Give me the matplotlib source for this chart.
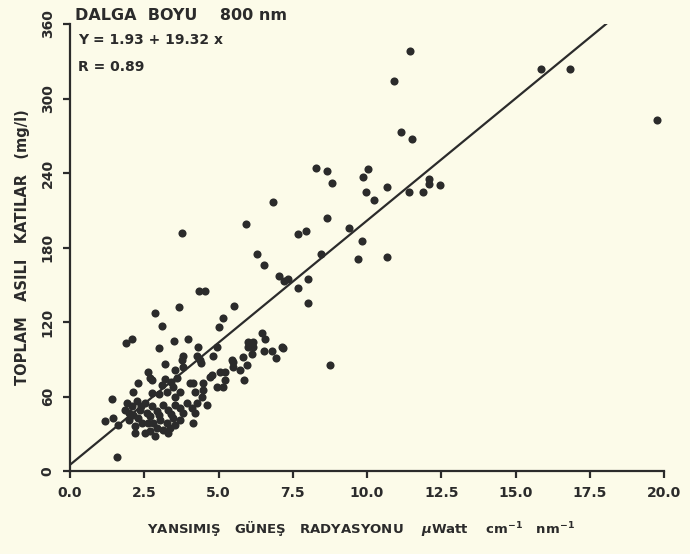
import numpy as np
import matplotlib
matplotlib.use("Agg")
import matplotlib.pyplot as plt

# points (radiation, suspended solids)
x_pts = [11.46, 10.92, 11.13, 11.50, 10.69, 11.43, 11.87, 12.10, 12.10, 12.47,
         15.87, 16.84, 19.76,
         8.27, 8.67, 8.81, 10.02, 9.88, 9.95, 10.22,
         8.67, 7.66, 7.93, 9.41, 8.44, 9.82, 9.71, 10.66,
         6.82, 5.92, 3.76, 6.29, 6.52,
         7.05, 7.20, 7.35, 7.66, 8.03, 8.03, 7.16, 8.74,
         4.34, 4.54, 5.51, 5.14, 5.00,
         3.66, 2.86, 3.09,
         1.88, 2.10, 3.50, 3.97, 4.30, 4.94, 2.99,
         6.45, 6.55, 6.00, 6.15, 6.00, 6.15, 7.13, 6.52, 6.79, 6.92, 6.12, 5.82,
         5.48, 5.95, 5.71, 4.81, 5.21, 5.04, 4.77, 5.44, 5.48, 5.21, 5.85, 4.47,
         4.94, 5.14, 4.70,
         3.80, 3.76, 4.27, 4.37, 4.40, 3.19, 3.53, 3.80, 2.76,
         2.62, 2.69, 2.29, 2.12, 1.41, 2.76, 3.09, 3.26, 3.46, 3.70, 3.53, 4.03,
         4.20, 4.14, 4.47, 4.45, 4.60,
         3.20, 3.40, 3.60, 3.00,
         1.92, 1.85, 2.08, 2.25, 2.35, 2.52, 2.59, 2.12, 2.00,
         2.76, 2.92, 3.13, 3.29, 3.53, 3.70, 3.93, 4.10, 4.27, 4.20, 4.14,
         1.18, 1.45, 1.61, 2.29, 2.42, 2.62, 2.79, 3.03, 3.26, 3.46, 3.70, 2.92,
         3.13, 3.36, 2.52, 2.18, 1.57, 3.30, 2.70,
         2.00, 2.40, 2.70, 3.00, 3.40, 3.80, 2.20, 2.85, 3.55]
y_pts = [338, 314, 273, 267, 229, 225, 225, 235, 231, 230,
         324, 324, 283,
         244, 242, 232, 243, 237, 225, 218,
         204, 191, 193, 196, 175, 185, 171, 172,
         217, 199, 192, 175, 166,
         157, 153, 155, 147, 155, 135, 99, 85,
         145, 145, 133, 123, 116,
         132, 127, 117,
         103, 106, 105, 106, 100, 100, 99,
         111, 106, 104, 104, 100, 100, 100, 97, 97, 91, 94, 92,
         88, 85, 81, 93, 80, 80, 77, 89, 84, 73, 73, 71,
         68, 68, 76,
         93, 89, 93, 89, 87, 86, 81, 84, 73,
         80, 75, 71, 64, 58, 63, 69, 64, 68, 64, 60, 71,
         64, 71, 65, 60, 53,
         74, 72, 75, 62,
         55, 49, 52, 56, 49, 55, 47, 45, 41,
         52, 48, 53, 49, 53, 51, 55, 51, 55, 47, 39,
         40, 43, 37, 43, 39, 39, 39, 41, 39, 43, 41, 35,
         33, 35, 31, 31, 11, 31, 32,
         47, 52, 44, 45, 46, 47, 36, 28, 37]

# regression line as drawn on the figure
line_x = [0.0, 18.05]
line_y = [5.0, 360.0]

x_ticks = [0, 2.5, 5, 7.5, 10, 12.5, 15, 17.5, 20]
x_ticklabels = ["0.0", "2.5", "5.0", "7.5", "10.0", "12.5", "15.0", "17.5", "20.0"]
y_ticks = [0, 60, 120, 180, 240, 300, 360]

ink = "#2b2b2b"
paper = "#fcfbe9"
plt.rcParams["font.family"] = ["DejaVu Sans"]
plt.rcParams["font.weight"] = "bold"

fig = plt.figure(figsize=(6.9, 5.54), dpi=100)
fig.patch.set_facecolor(paper)
ax = fig.add_axes([70 / 690, 1 - 471 / 554, 594 / 690, 447 / 554])
ax.set_facecolor(paper)

ax.scatter(x_pts, y_pts, s=34, color=ink, linewidths=0, zorder=3)
ax.plot(line_x, line_y, color=ink, lw=1.6, zorder=2)

ax.set_xlim(0, 20)
ax.set_ylim(0, 360)
for side in ["top", "right"]:
    ax.spines[side].set_visible(False)
for side in ["left", "bottom"]:
    ax.spines[side].set_linewidth(1.6)
    ax.spines[side].set_color(ink)

ax.set_xticks(x_ticks)
ax.set_xticklabels(x_ticklabels, fontsize=10, fontweight="bold", color=ink)
ax.set_yticks(y_ticks)
ax.set_yticklabels([str(v) for v in y_ticks], fontsize=10, fontweight="bold",
                   color=ink, rotation=90, va="center")
ax.tick_params(axis="both", direction="out", length=5, width=1.6, colors=ink)
ax.tick_params(axis="x", pad=6)
ax.tick_params(axis="y", pad=6)

ax.set_ylabel("TOPLAM   ASILI   KATILAR   (mg/l)", fontsize=10.5,
              fontweight="bold", color=ink, labelpad=8)

fig.text(147 / 690, 1 - 528 / 554,
         r"YANSIMIŞ   GÜNEŞ   RADYASYONU    $\mu$Watt    cm$^{-1}$   nm$^{-1}$",
         fontsize=9.5, fontweight="bold", color=ink, va="center", ha="left")

fig.text(75 / 690, 1 - 15 / 554, "DALGA  BOYU    800 nm", fontsize=11.5,
         fontweight="bold", color=ink, va="center")
fig.text(78 / 690, 1 - 40 / 554, "Y = 1.93 + 19.32 x", fontsize=10,
         fontweight="bold", color=ink, va="center")
fig.text(78 / 690, 1 - 67 / 554, "R = 0.89", fontsize=10,
         fontweight="bold", color=ink, va="center")

fig.savefig("out.png", dpi=100, facecolor=paper)
